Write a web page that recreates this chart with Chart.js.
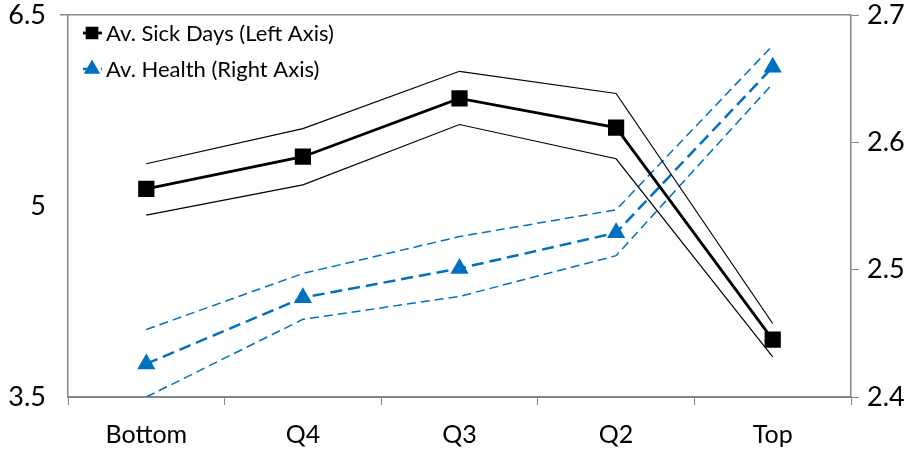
<!DOCTYPE html>
<html>
<head>
<meta charset="utf-8">
<script src="https://cdn.jsdelivr.net/npm/chart.js@4/dist/chart.umd.min.js"></script>
<style>
  html, body { margin: 0; padding: 0; background: #fff; }
  #wrap { width: 913px; height: 453px; }
</style>
</head>
<body>
<div id="wrap"><canvas id="chart" width="913" height="453"></canvas></div>
<script>
const categories = ['Bottom', 'Q4', 'Q3', 'Q2', 'Top'];

// Av. sick days, left axis, with upper / lower bands
const sickDays = [5.135, 5.387, 5.845, 5.616, 3.951];
const sickDaysUpper = [5.332, 5.608, 6.058, 5.884, 4.077];
const sickDaysLower = [4.929, 5.166, 5.640, 5.371, 3.816];

// Av. health, right axis, with upper / lower bands
const health = [2.426, 2.478, 2.501, 2.529, 2.659];
const healthUpper = [2.453, 2.497, 2.526, 2.547, 2.676];
const healthLower = [2.400, 2.461, 2.479, 2.511, 2.646];

const leftTicks = [3.5, 5, 6.5];
const rightTicks = [2.4, 2.5, 2.6, 2.7];

const FONT = 'Lato, "Open Sans", sans-serif';
const BLUE = '#0070C0';
const AXIS = '#868686';

// legend drawn inside the plot, top left
const legendPlugin = {
    id: 'insideLegend',
    afterDraw(chart) {
        const ctx = chart.ctx;
        const rows = [
            {ds: chart.data.datasets[0], y: 33, r: 7},
            {ds: chart.data.datasets[3], y: 69, r: 7}
        ];
        rows.forEach(row => {
            const ds = row.ds;
            ctx.save();
            ctx.strokeStyle = ds.borderColor;
            ctx.lineWidth = ds.borderWidth;
            ctx.setLineDash(ds.borderDash || []);
            ctx.beginPath();
            ctx.moveTo(83, row.y);
            ctx.lineTo(102, row.y);
            ctx.stroke();
            ctx.setLineDash([]);
            ctx.fillStyle = ds.pointBackgroundColor;
            ctx.strokeStyle = ds.pointBackgroundColor;
            Chart.helpers.drawPoint(ctx, {pointStyle: ds.pointStyle, radius: row.r, rotation: 0, borderWidth: 1}, 92, row.y);
            ctx.fillStyle = '#000';
            ctx.font = '22px ' + FONT;
            ctx.textBaseline = 'middle';
            ctx.fillText(ds.label, 106, row.y + 1);
            ctx.restore();
        });
    }
};

const band = (data, color, width, dash, axis) => ({
    label: '',
    data: data,
    yAxisID: axis,
    borderColor: color,
    borderWidth: width,
    borderDash: dash,
    pointRadius: 0,
    pointHoverRadius: 0,
    fill: false,
    tension: 0
});

const fitY = w => s => {
    s.width = w;
    s.paddingTop = 0;
    s.paddingBottom = 0;
};

new Chart(document.getElementById('chart').getContext('2d'), {
    type: 'line',
    data: {
        labels: categories,
        datasets: [
            {
                label: 'Av. Sick Days (Left Axis)',
                data: sickDays,
                yAxisID: 'y',
                borderColor: '#000',
                borderWidth: 2.8,
                pointStyle: 'rect',
                pointRadius: 9.5,
                pointBackgroundColor: '#000',
                pointBorderColor: '#000',
                fill: false,
                tension: 0
            },
            band(sickDaysUpper, '#000', 1.2, [], 'y'),
            band(sickDaysLower, '#000', 1.2, [], 'y'),
            {
                label: 'Av. Health (Right Axis)',
                data: health,
                yAxisID: 'y1',
                borderColor: BLUE,
                borderWidth: 2.5,
                borderDash: [12, 6],
                pointStyle: 'triangle',
                pointRadius: 8,
                pointBackgroundColor: BLUE,
                pointBorderColor: BLUE,
                fill: false,
                tension: 0
            },
            band(healthUpper, BLUE, 1.5, [9, 5], 'y1'),
            band(healthLower, BLUE, 1.5, [9, 5], 'y1')
        ]
    },
    options: {
        responsive: false,
        animation: false,
        layout: {padding: {top: 15, left: 0, right: 0, bottom: 0}},
        plugins: {
            legend: {display: false},
            tooltip: {enabled: false}
        },
        scales: {
            x: {
                offset: true,
                afterFit: s => { s.height = 56; },
                grid: {
                    offset: true,
                    drawOnChartArea: false,
                    tickLength: 8,
                    color: AXIS
                },
                border: {color: AXIS, width: 2},
                ticks: {
                    color: '#000',
                    padding: 15,
                    font: {family: FONT, size: 25}
                }
            },
            y: {
                position: 'left',
                min: 3.5,
                max: 6.5,
                afterBuildTicks: s => { s.ticks = leftTicks.map(v => ({value: v})); },
                afterFit: fitY(68),
                grid: {
                    tickLength: 8,
                    color: c => (c.tick && c.tick.value === 6.5) ? AXIS : 'rgba(0,0,0,0)',
                    lineWidth: 1.5
                },
                border: {color: AXIS, width: 1.5},
                ticks: {
                    color: '#000',
                    padding: 14,
                    font: {family: FONT, size: 27},
                    callback: v => String(v)
                }
            },
            y1: {
                position: 'right',
                min: 2.4,
                max: 2.7,
                afterBuildTicks: s => { s.ticks = rightTicks.map(v => ({value: v})); },
                afterFit: fitY(62),
                grid: {
                    drawOnChartArea: false,
                    tickLength: 8,
                    color: AXIS
                },
                border: {color: AXIS, width: 1.5},
                ticks: {
                    color: '#000',
                    padding: 8,
                    font: {family: FONT, size: 27},
                    callback: v => String(v)
                }
            }
        }
    },
    plugins: [legendPlugin]
});
</script>
</body>
</html>
